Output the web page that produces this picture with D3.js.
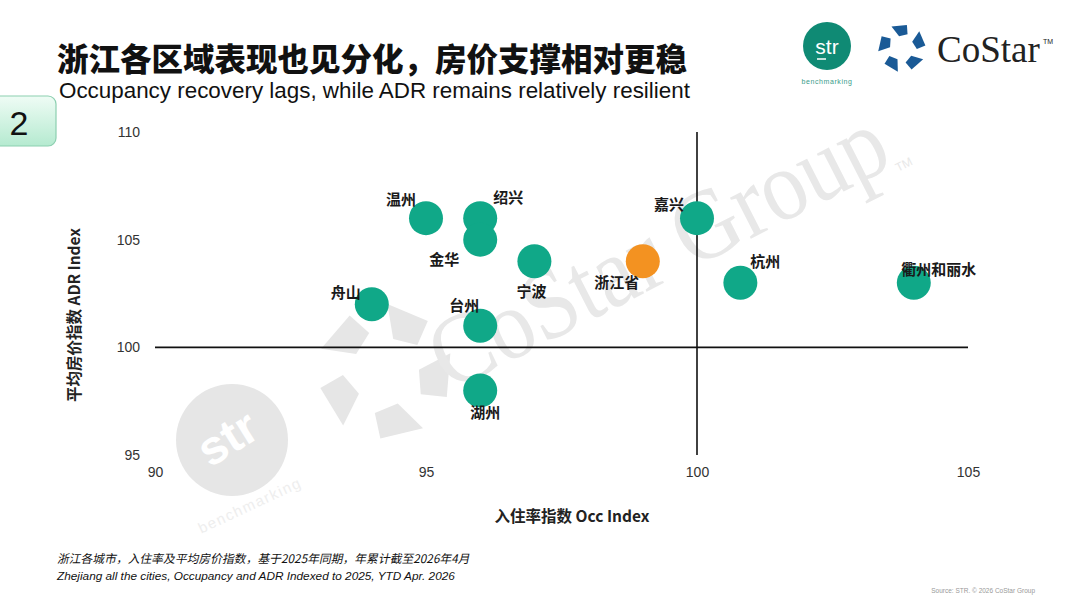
<!DOCTYPE html>
<html>
<head>
<meta charset="utf-8">
<script src="https://cdn.jsdelivr.net/npm/d3@7"></script>
<style>
  body { margin: 0; background: #fff; }
  svg { display: block; }
</style>
</head>
<body>
<div id="chart"></div>
<script>
// Data
const cities = ["温州", "绍兴", "金华", "宁波", "浙江省", "嘉兴", "杭州", "衢州和丽水", "舟山", "台州", "湖州"];
const occIndex = [95, 96, 96, 97, 99, 100, 100.8, 104, 94, 96, 96];
const adrIndex = [106, 106, 105, 104, 104, 106, 103, 103, 102, 101, 98];
const xTicks = [90, 95, 100, 105];
const yTicks = [95, 100, 105, 110];

// Label placement relative to each bubble (layout only)
const labelOffset = {
    "温州": [-25, -18], "绍兴": [28, -20], "金华": [-36, 20], "宁波": [-3, 31],
    "浙江省": [-26, 22], "嘉兴": [-28, -13], "杭州": [25, -21], "衢州和丽水": [25, -13],
    "舟山": [-26, -12], "台州": [-16, -20], "湖州": [5, 22]
};

const width = 1080, height = 608;
const cjk = "'Noto Sans CJK SC', 'Noto Sans', sans-serif";
const latin = "'Liberation Sans', Arial, sans-serif";

const svg = d3.select("#chart").append("svg")
    .attr("width", width)
    .attr("height", height);

const defs = svg.append("defs");
const grad = defs.append("linearGradient").attr("id", "boxGrad")
    .attr("x1", 0).attr("y1", 0).attr("x2", 0).attr("y2", 1);
grad.append("stop").attr("offset", "0%").attr("stop-color", "#effcf5");
grad.append("stop").attr("offset", "100%").attr("stop-color", "#b5ead0");

// ---- watermarks ----
const wm = svg.append("g").attr("fill", "#e6e6e6");

// star pieces helper
function starPieces(g, cx, cy, R, rot) {
    const pol = (r, a) => [cx + r * Math.cos((a + rot) * Math.PI / 180), cy + r * Math.sin((a + rot) * Math.PI / 180)];
    for (let i = 0; i < 5; i++) {
        const t = i * 72;
        const pts = [pol(0.5 * R, t - 14), pol(R, t - 26), pol(R * 0.98, t + 12), pol(0.62 * R, t + 22)];
        g.append("polygon").attr("points", pts.map(p => p.join(",")).join(" "));
    }
}
starPieces(wm, 385, 372, 68, -62);

wm.append("circle").attr("cx", 232).attr("cy", 440).attr("r", 56);
wm.append("text")
    .attr("transform", "translate(236,452) rotate(-32)")
    .attr("text-anchor", "middle")
    .attr("font-family", latin)
    .attr("font-weight", 700)
    .attr("font-size", 48)
    .attr("fill", "#fff")
    .text("str");
wm.append("text")
    .attr("transform", "translate(252,510) rotate(-25)")
    .attr("text-anchor", "middle")
    .attr("font-family", latin)
    .attr("font-size", 15)
    .attr("letter-spacing", 1.5)
    .attr("fill", "#eeeeee")
    .text("benchmarking");
wm.append("text")
    .attr("transform", "translate(450,392) rotate(-27)")
    .attr("font-family", "'Liberation Serif', serif")
    .attr("font-size", 100)
    .attr("textLength", 500)
    .attr("lengthAdjust", "spacingAndGlyphs")
    .attr("fill", "#e8e8e8")
    .text("CoStar Group");
wm.append("text")
    .attr("transform", "translate(898,172) rotate(-27)")
    .attr("font-family", latin)
    .attr("font-size", 12)
    .attr("fill", "#e8e8e8")
    .text("TM");

// ---- scales ----
const x = d3.scaleLinear().domain([90, 105]).range([155, 968]);
const y = d3.scaleLinear().domain([95, 110]).range([455, 132]);

// ---- axes (labels only) ----
const xAxis = svg.append("g")
    .attr("transform", "translate(0,467)")
    .call(d3.axisBottom(x).tickValues(xTicks).tickSize(0).tickPadding(0));
const yAxis = svg.append("g")
    .attr("transform", "translate(140,0)")
    .call(d3.axisLeft(y).tickValues(yTicks).tickSize(0).tickPadding(0));
[xAxis, yAxis].forEach(a => {
    a.select(".domain").remove();
    a.selectAll("text")
        .attr("font-family", latin)
        .attr("font-size", 14)
        .attr("fill", "#333");
});

// crossing reference lines at 100
svg.append("line")
    .attr("x1", x(90)).attr("x2", x(105))
    .attr("y1", y(100)).attr("y2", y(100))
    .attr("stroke", "#111").attr("stroke-width", 1.6);
svg.append("line")
    .attr("x1", x(100)).attr("x2", x(100))
    .attr("y1", y(110)).attr("y2", y(95))
    .attr("stroke", "#111").attr("stroke-width", 1.6);

// ---- bubbles ----
const pts = cities.map((c, i) => ({ name: c, occ: occIndex[i], adr: adrIndex[i] }));

svg.append("g").selectAll("circle")
    .data(pts)
    .join("circle")
    .attr("cx", d => x(d.occ))
    .attr("cy", d => y(d.adr))
    .attr("r", 17)
    .attr("fill", d => d.name === "浙江省" ? "#f39221" : "#10a888");

svg.append("g").selectAll("text")
    .data(pts)
    .join("text")
    .attr("x", d => x(d.occ) + labelOffset[d.name][0])
    .attr("y", d => y(d.adr) + labelOffset[d.name][1])
    .attr("text-anchor", "middle")
    .attr("dy", "0.35em")
    .attr("font-family", cjk)
    .attr("font-weight", 700)
    .attr("font-size", 15)
    .attr("fill", "#1a1a1a")
    .text(d => d.name);

// ---- axis titles ----
svg.append("text")
    .attr("x", 572).attr("y", 522)
    .attr("text-anchor", "middle")
    .attr("font-family", cjk)
    .attr("font-weight", 700)
    .attr("font-size", 15.5)
    .attr("fill", "#222")
    .text("入住率指数 Occ Index");
svg.append("text")
    .attr("transform", "translate(80,315) rotate(-90)")
    .attr("text-anchor", "middle")
    .attr("font-family", cjk)
    .attr("font-weight", 700)
    .attr("font-size", 15.5)
    .attr("fill", "#222")
    .text("平均房价指数 ADR Index");

// ---- titles ----
svg.append("text")
    .attr("x", 57).attr("y", 71)
    .attr("font-family", cjk)
    .attr("font-weight", 900)
    .attr("font-size", 31.5)
    .attr("fill", "#111")
    .text("浙江各区域表现也见分化，房价支撑相对更稳");
svg.append("text")
    .attr("x", 59).attr("y", 98)
    .attr("font-family", latin)
    .attr("font-size", 22.4)
    .attr("fill", "#111")
    .text("Occupancy recovery lags, while ADR remains relatively resilient");

// section number box
svg.append("rect")
    .attr("x", -8).attr("y", 96).attr("width", 64).attr("height", 50).attr("rx", 8)
    .attr("fill", "url(#boxGrad)")
    .attr("stroke", "#8ccfb0").attr("stroke-width", 1.2);
svg.append("text")
    .attr("x", 19).attr("y", 135)
    .attr("text-anchor", "middle")
    .attr("font-family", latin)
    .attr("font-size", 34)
    .attr("fill", "#111")
    .text("2");

// ---- logos ----
const logo = svg.append("g");
logo.append("circle").attr("cx", 827).attr("cy", 46).attr("r", 24).attr("fill", "#0f8a74");
logo.append("text")
    .attr("x", 827).attr("y", 54)
    .attr("text-anchor", "middle")
    .attr("font-family", latin)
    .attr("font-size", 21)
    .attr("fill", "#fff")
    .text("str");
logo.append("line")
    .attr("x1", 817).attr("x2", 826).attr("y1", 59).attr("y2", 59)
    .attr("stroke", "#fff").attr("stroke-width", 1.5);
logo.append("text")
    .attr("x", 827).attr("y", 84)
    .attr("text-anchor", "middle")
    .attr("font-family", latin)
    .attr("font-size", 7)
    .attr("letter-spacing", 0.6)
    .attr("fill", "#3a9c8a")
    .text("benchmarking");

const star = logo.append("g").attr("fill", "#1a5a96");
starPieces(star, 902, 48, 24, -90);
logo.append("text")
    .attr("x", 937).attr("y", 62)
    .attr("font-family", "'Liberation Serif', serif")
    .attr("font-size", 37)
    .attr("fill", "#222")
    .text("CoStar");
logo.append("text")
    .attr("x", 1043).attr("y", 44)
    .attr("font-family", latin)
    .attr("font-size", 7)
    .attr("fill", "#222")
    .text("TM");

// ---- footnotes ----
svg.append("text")
    .attr("transform", "translate(57,563) skewX(-12)")
    .attr("font-family", cjk)
    .attr("font-size", 11.8)
    .attr("fill", "#111")
    .text("浙江各城市，入住率及平均房价指数，基于2025年同期，年累计截至2026年4月");
svg.append("text")
    .attr("x", 57).attr("y", 580)
    .attr("font-family", latin)
    .attr("font-style", "italic")
    .attr("font-size", 11.8)
    .attr("fill", "#111")
    .text("Zhejiang all the cities, Occupancy and ADR Indexed to 2025, YTD Apr. 2026");
svg.append("text")
    .attr("x", 1035).attr("y", 593)
    .attr("text-anchor", "end")
    .attr("font-family", latin)
    .attr("font-size", 6.5)
    .attr("fill", "#999")
    .text("Source: STR. © 2026 CoStar Group");
</script>
</body>
</html>
